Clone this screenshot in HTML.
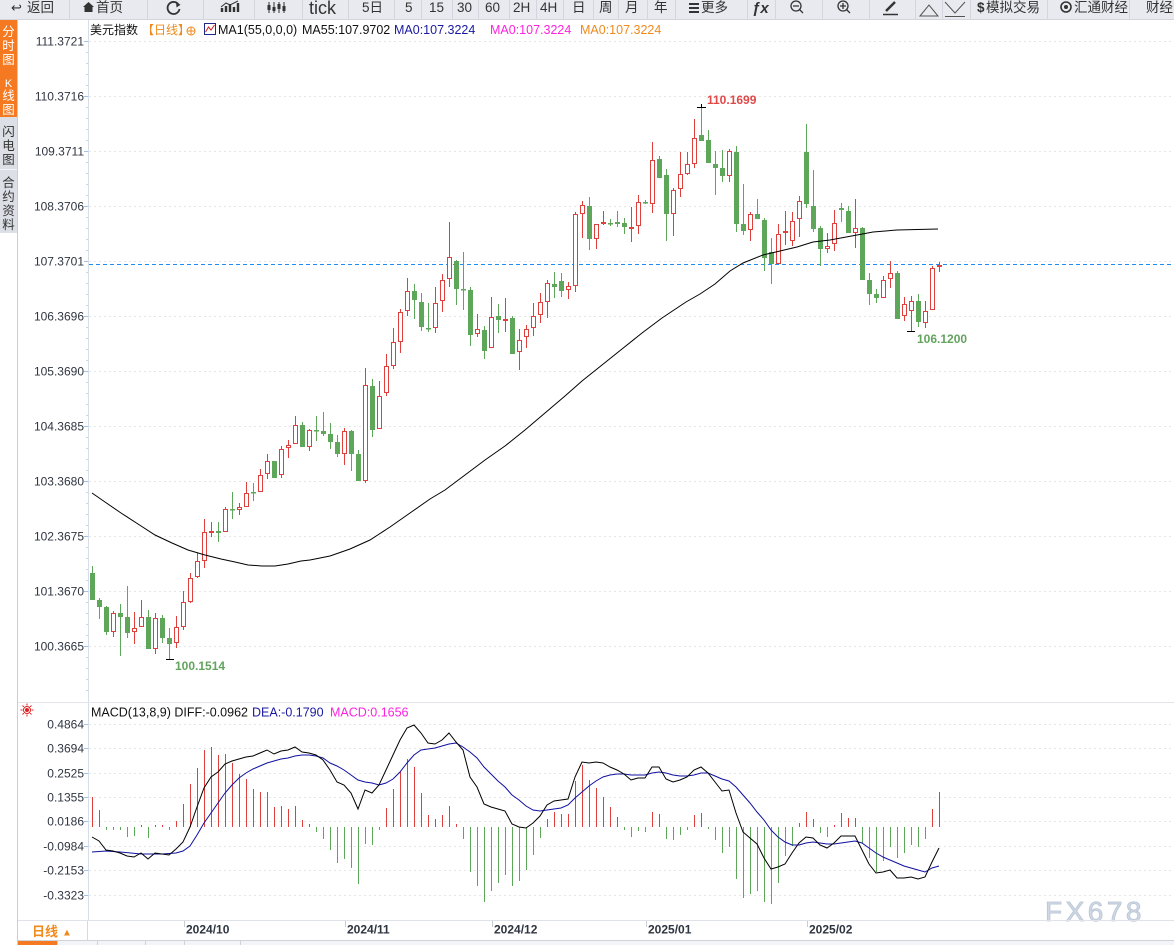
<!DOCTYPE html>
<html><head><meta charset="utf-8"><style>
html,body{margin:0;padding:0;background:#fff;}
body{width:1174px;height:945px;overflow:hidden;position:relative;}
svg{display:block;}
text{font-family:"Liberation Sans","Noto Sans CJK SC",sans-serif;}
</style></head><body>
<svg width="1174" height="945" viewBox="0 0 1174 945" xmlns="http://www.w3.org/2000/svg">
<rect width="1174" height="945" fill="#fff"/>
<!-- toolbar -->
<rect x="0" y="0" width="1174" height="19" fill="#e8eaef"/>
<line x1="0" y1="19.5" x2="1174" y2="19.5" stroke="#d2d5dc"/>
<g stroke="#d3d6dd" stroke-width="1">
<path d="M69.5 0V19M147.5 0V19M203.5 0V19M254.5 0V19M302.5 0V19M348.5 0V19M394.5 0V19M421.5 0V19M452.5 0V19M478.5 0V19M509.5 0V19M536.5 0V19M563.5 0V19M593.5 0V19M618.5 0V19M647.5 0V19M675.5 0V19M747.5 0V19M775.5 0V19M822.5 0V19M869.5 0V19M915.5 0V19M942.5 0V19M970.5 0V19M1047.5 0V19M1129.5 0V19"/>
</g>
<g fill="#333" font-size="13.5">
<text x="11" y="12" font-family="DejaVu Sans" font-size="13">↩</text>
<text x="27" y="12">返回</text>
<path d="M83 7 L88.5 2 L94 7 L92.5 7 L92.5 12 L84.5 12 L84.5 7Z" fill="#333"/>
<text x="96" y="12">首页</text>
<path d="M178.5 4.5 A6 6 0 1 0 179.5 9" fill="none" stroke="#333" stroke-width="1.8"/>
<path d="M176 2 L180.5 4.8 L176.5 7.5Z" fill="#333"/>
<path d="M222 12V8M226 12V6M230 12V4M234 12V7M238 12V3" stroke="#333" stroke-width="2.4"/>
<path d="M221 7 L226 3 L230 5 L238 1" stroke="#333" fill="none" stroke-width="1"/>
<path d="M269 2V13M274 2V13M279 2V13M284 2V13" stroke="#333" stroke-width="1"/>
<path d="M267.5 5h3v5h-3zM272.5 7h3v4h-3zM277.5 4h3v5h-3zM282.5 6h3v5h-3z" fill="#333"/>
<text x="309" y="14" font-size="18">tick</text>
<text x="362" y="12">5日</text>
<text x="405" y="12">5</text>
<text x="429" y="12">15</text>
<text x="457" y="12">30</text>
<text x="485" y="12">60</text>
<text x="513" y="12">2H</text>
<text x="540" y="12">4H</text>
<text x="572" y="12">日</text>
<text x="599" y="12">周</text>
<text x="625" y="12">月</text>
<text x="654" y="12">年</text>
<path d="M689 3h10v2h-10zM689 7h10v2h-10zM689 11h10v2h-10z" fill="#333"/>
<text x="701" y="12">更多</text>
<text x="752" y="13" font-family="Liberation Serif" font-style="italic" font-weight="bold" font-size="15">ƒx</text>
<circle cx="796" cy="6" r="5" fill="none" stroke="#333" stroke-width="1.3"/>
<path d="M793 6h6M799.5 9.5L803 13" stroke="#333" stroke-width="1.3"/>
<circle cx="843" cy="6" r="5" fill="none" stroke="#333" stroke-width="1.3"/>
<path d="M840 6h6M843 3v6M846.5 9.5L850 13" stroke="#333" stroke-width="1.3"/>
<path d="M886 11 L895 2" stroke="#333" stroke-width="2.5"/>
<path d="M883 14.5h15" stroke="#333" stroke-width="1.5"/>
<path d="M920 16 L929 5 L938 16Z" fill="none" stroke="#555" stroke-width="1"/>
<path d="M945 2 L955 13 L965 2M945 16.5h20" fill="none" stroke="#555" stroke-width="1"/>
<text x="977" y="12" font-weight="bold">$</text>
<text x="986" y="12">模拟交易</text>
<circle cx="1066" cy="7" r="5" fill="none" stroke="#333" stroke-width="1.6"/>
<circle cx="1066" cy="7" r="2" fill="#333"/>
<text x="1074" y="12">汇通财经</text>
<text x="1146" y="12">财经</text>
</g>
<!-- left sidebar -->
<rect x="0" y="20" width="17" height="97" fill="#f47920"/>
<rect x="0" y="117" width="17" height="116" fill="#dcdfe6"/>
<line x1="0" y1="169.5" x2="17" y2="169.5" stroke="#f4f5f8"/>
<line x1="17.5" y1="20" x2="17.5" y2="945" stroke="#c9cdd5"/>
<g font-size="12.5" text-anchor="middle">
<text x="8.5" y="36" fill="#fff">分</text>
<text x="8.5" y="50" fill="#fff">时</text>
<text x="8.5" y="64" fill="#fff">图</text>
<text x="8.5" y="87" fill="#fff" font-family="Liberation Serif" font-size="11">K</text>
<text x="8.5" y="100" fill="#fff">线</text>
<text x="8.5" y="114" fill="#fff">图</text>
<text x="8.5" y="136" fill="#333">闪</text>
<text x="8.5" y="150" fill="#333">电</text>
<text x="8.5" y="164" fill="#333">图</text>
<text x="8.5" y="187" fill="#333">合</text>
<text x="8.5" y="201" fill="#333">约</text>
<text x="8.5" y="215" fill="#333">资</text>
<text x="8.5" y="229" fill="#333">料</text>
</g>
<!-- axis line -->
<line x1="88.5" y1="20" x2="88.5" y2="921" stroke="#d5dde8"/>
<!-- price grid -->
<g stroke="#e6e6e6" stroke-dasharray="2,3">
<path d="M89 41.5H1174M89 96.5H1174M89 151.5H1174M89 206.5H1174M89 261.5H1174M89 316.5H1174M89 371.5H1174M89 426.5H1174M89 481.5H1174M89 536.5H1174M89 591.5H1174M89 646.5H1174"/>
</g>
<g stroke="#9fc4e8">
<path d="M84 41.5H88M84 96.5H88M84 151.5H88M84 206.5H88M84 261.5H88M84 316.5H88M84 371.5H88M84 426.5H88M84 481.5H88M84 536.5H88M84 591.5H88M84 646.5H88"/>
</g>
<g stroke="#cfd6df">
<path d="M86 52.5H88M86 63.5H88M86 74.5H88M86 85.5H88M86 107.5H88M86 118.5H88M86 129.5H88M86 140.5H88M86 162.5H88M86 173.5H88M86 184.5H88M86 195.5H88M86 217.5H88M86 228.5H88M86 239.5H88M86 250.5H88M86 272.5H88M86 283.5H88M86 294.5H88M86 305.5H88M86 327.5H88M86 338.5H88M86 349.5H88M86 360.5H88M86 382.5H88M86 393.5H88M86 404.5H88M86 415.5H88M86 437.5H88M86 448.5H88M86 459.5H88M86 470.5H88M86 492.5H88M86 503.5H88M86 514.5H88M86 525.5H88M86 547.5H88M86 558.5H88M86 569.5H88M86 580.5H88M86 602.5H88M86 613.5H88M86 624.5H88M86 635.5H88M86 657.5H88M86 668.5H88M86 679.5H88M86 690.5H88"/>
</g>
<g fill="#2f3540" font-size="12" text-anchor="end">
<text x="84" y="45.5">111.3721</text>
<text x="84" y="100.5">110.3716</text>
<text x="84" y="155.5">109.3711</text>
<text x="84" y="210.5">108.3706</text>
<text x="84" y="265.5">107.3701</text>
<text x="84" y="320.5">106.3696</text>
<text x="84" y="375.5">105.3690</text>
<text x="84" y="430.5">104.3685</text>
<text x="84" y="485.5">103.3680</text>
<text x="84" y="540.5">102.3675</text>
<text x="84" y="595.5">101.3670</text>
<text x="84" y="650.5">100.3665</text>
</g>
<!-- header -->
<text x="90" y="34" font-size="12" fill="#111">美元指数</text>
<text x="142" y="34" font-size="12" fill="#f08a1c">【日线】</text>
<circle cx="191" cy="31" r="4" fill="none" stroke="#f08a1c" stroke-width="1"/>
<path d="M187 31h8M191 27v8" stroke="#f08a1c" stroke-width="1"/>
<rect x="204.5" y="23.5" width="11" height="11" fill="#fff" stroke="#1d2a8a"/>
<path d="M205.5 32 L208.5 27 L211 30 L214.5 25" fill="none" stroke="#d02020"/>
<g font-size="12.5">
<text x="218" y="34" fill="#111">MA1(55,0,0,0)</text>
<text x="302" y="34" fill="#111">MA55:107.9702</text>
<text x="394" y="34" fill="#1a1aa0">MA0:107.3224</text>
<text x="490" y="34" fill="#ff22dd">MA0:107.3224</text>
<text x="580" y="34" fill="#f08a1c">MA0:107.3224</text>
</g>
<!-- dashed current price line -->
<line x1="89" y1="264.5" x2="1174" y2="264.5" stroke="#1e8cf0" stroke-dasharray="4,3"/>
<!-- candles: green -->
<path stroke="#5ea65a" stroke-width="1" fill="none" d="M92.5 566V600M99.5 598V619M106.5 606V635M120.5 604V656M127.5 586V638M148.5 610V649M162.5 615V643M169.5 628V659M218.5 522V542M232.5 492V519M253.5 483V501M274.5 461V478M302.5 422V447M316.5 416V441M323.5 412V436M330.5 423V449M337.5 435V457M351.5 430V471M358.5 450V481M372.5 379V437M414.5 284V319M421.5 293V331M428.5 303V332M456.5 260V305M463.5 252V310M470.5 287V346M484.5 326V359M498.5 304V333M512.5 316V354M554.5 272V298M561.5 273V297M589.5 197V250M610.5 219V226M617.5 211V227M624.5 218V234M645.5 200V204M659.5 156V178M666.5 169V241M701.5 107V141M708.5 130V163M715.5 151V195M722.5 150V182M736.5 146V232M743.5 184V235M757.5 199V219M764.5 218V271M771.5 238V284M806.5 124V208M813.5 170V232M820.5 226V266M841.5 203V222M848.5 206V233M862.5 227V280M869.5 273V305M876.5 289V303M897.5 271V319M918.5 294V327"/>
<g fill="#5ea65a">
<rect x="90" y="573" width="5" height="27"/><rect x="97" y="600" width="5" height="7"/><rect x="104" y="607" width="5" height="25"/><rect x="118" y="613" width="5" height="4"/><rect x="125" y="617" width="5" height="16"/><rect x="146" y="617" width="5" height="32"/><rect x="160" y="618" width="5" height="20"/><rect x="167" y="638" width="5" height="6"/><rect x="216" y="531" width="5" height="2"/><rect x="230" y="509" width="5" height="1.5"/><rect x="251" y="492" width="5" height="1.5"/><rect x="272" y="461" width="5" height="17"/><rect x="300" y="425" width="5" height="22"/><rect x="314" y="430" width="5" height="1.5"/><rect x="321" y="431" width="5" height="3"/><rect x="328" y="434" width="5" height="8"/><rect x="335" y="442" width="5" height="12"/><rect x="349" y="431" width="5" height="23"/><rect x="356" y="454" width="5" height="27"/><rect x="370" y="386" width="5" height="44"/><rect x="412" y="291" width="5" height="9"/><rect x="419" y="302" width="5" height="25"/><rect x="426" y="328" width="5" height="1.5"/><rect x="454" y="261" width="5" height="28"/><rect x="461" y="289" width="5" height="1.5"/><rect x="468" y="290" width="5" height="45"/><rect x="482" y="330" width="5" height="21"/><rect x="496" y="316" width="5" height="4"/><rect x="510" y="318" width="5" height="36"/><rect x="552" y="284" width="5" height="3"/><rect x="559" y="281" width="5" height="10"/><rect x="587" y="206" width="5" height="33"/><rect x="608" y="223" width="5" height="1.5"/><rect x="615" y="222" width="5" height="2"/><rect x="622" y="223" width="5" height="4"/><rect x="643" y="202" width="5" height="1.5"/><rect x="657" y="159" width="5" height="19"/><rect x="664" y="175" width="5" height="39"/><rect x="699" y="135" width="5" height="6"/><rect x="706" y="140" width="5" height="23"/><rect x="713" y="164" width="5" height="4"/><rect x="720" y="168" width="5" height="8"/><rect x="734" y="152" width="5" height="72"/><rect x="741" y="224" width="5" height="7"/><rect x="755" y="214" width="5" height="5"/><rect x="762" y="220" width="5" height="38"/><rect x="769" y="252" width="5" height="12"/><rect x="804" y="152" width="5" height="52"/><rect x="811" y="206" width="5" height="23"/><rect x="818" y="228" width="5" height="21"/><rect x="839" y="208" width="5" height="2"/><rect x="846" y="211" width="5" height="22"/><rect x="860" y="228" width="5" height="52"/><rect x="867" y="280" width="5" height="14"/><rect x="874" y="294" width="5" height="4"/><rect x="895" y="273" width="5" height="46"/><rect x="916" y="301" width="5" height="21"/>
</g>
<!-- candles: red -->
<path stroke="#e0403c" stroke-width="1" fill="none" d="M113.5 611V637M134.5 612V644M141.5 600V627M155.5 613V654M176.5 616V648M183.5 591V630M190.5 573V603M197.5 553V578M204.5 519V568M211.5 522V537M225.5 507V532M239.5 503V515M246.5 482V507M260.5 469V492M267.5 454V479M281.5 446V478M288.5 440V458M295.5 416V444M309.5 429V451M344.5 428V465M365.5 368V483M379.5 381V429M386.5 354V396M393.5 328V369M400.5 309V353M407.5 278V316M435.5 287V333M442.5 274V312M449.5 222V287M477.5 314V337M491.5 297V348M505.5 298V332M519.5 329V370M526.5 325V348M533.5 303V336M540.5 293V323M547.5 280V318M568.5 282V299M575.5 212V292M582.5 201V238M596.5 224V249M603.5 211V225M631.5 207V242M638.5 195V234M652.5 142V213M673.5 188V236M680.5 152V197M687.5 152V175M694.5 119V168M729.5 149V182M750.5 212V241M778.5 224V264M785.5 211V245M792.5 212V246M799.5 196V237M827.5 233V253M834.5 210V251M855.5 199V248M883.5 276V298M890.5 261V288M904.5 297V321M911.5 296V331M925.5 301V328M932.5 266V310M939.5 262V272"/>
<g fill="#fff" stroke="#e0403c" stroke-width="1">
<rect x="111.5" y="613.5" width="4" height="18"/><rect x="132.5" y="628.5" width="4" height="3"/><rect x="139.5" y="617.5" width="4" height="9"/><rect x="153.5" y="618.5" width="4" height="30"/><rect x="174.5" y="627.5" width="4" height="15"/><rect x="181.5" y="602.5" width="4" height="24"/><rect x="188.5" y="578.5" width="4" height="23"/><rect x="195.5" y="561.5" width="4" height="15"/><rect x="202.5" y="532.5" width="4" height="28"/><rect x="209.5" y="531.5" width="4" height="1"/><rect x="223.5" y="509.5" width="4" height="22"/><rect x="237.5" y="507.5" width="4" height="2"/><rect x="244.5" y="493.5" width="4" height="13"/><rect x="258.5" y="475.5" width="4" height="16"/><rect x="265.5" y="461.5" width="4" height="12"/><rect x="279.5" y="449.5" width="4" height="25"/><rect x="286.5" y="445.5" width="4" height="2"/><rect x="293.5" y="425.5" width="4" height="18"/><rect x="307.5" y="430.5" width="4" height="16"/><rect x="342.5" y="431.5" width="4" height="22"/><rect x="363.5" y="385.5" width="4" height="95"/><rect x="377.5" y="396.5" width="4" height="32"/><rect x="384.5" y="366.5" width="4" height="26"/><rect x="391.5" y="342.5" width="4" height="23"/><rect x="398.5" y="312.5" width="4" height="29"/><rect x="405.5" y="291.5" width="4" height="19"/><rect x="433.5" y="303.5" width="4" height="24"/><rect x="440.5" y="280.5" width="4" height="20"/><rect x="447.5" y="257.5" width="4" height="21"/><rect x="475.5" y="329.5" width="4" height="4"/><rect x="489.5" y="317.5" width="4" height="30"/><rect x="517.5" y="340.5" width="4" height="11"/><rect x="524.5" y="329.5" width="4" height="7"/><rect x="531.5" y="316.5" width="4" height="11"/><rect x="538.5" y="302.5" width="4" height="12"/><rect x="545.5" y="283.5" width="4" height="18"/><rect x="566.5" y="286.5" width="4" height="3"/><rect x="573.5" y="214.5" width="4" height="71"/><rect x="580.5" y="205.5" width="4" height="8"/><rect x="594.5" y="224.5" width="4" height="14"/><rect x="636.5" y="202.5" width="4" height="23"/><rect x="650.5" y="160.5" width="4" height="43"/><rect x="671.5" y="190.5" width="4" height="23"/><rect x="678.5" y="174.5" width="4" height="14"/><rect x="685.5" y="164.5" width="4" height="9"/><rect x="692.5" y="138.5" width="4" height="25"/><rect x="727.5" y="151.5" width="4" height="24"/><rect x="748.5" y="214.5" width="4" height="15"/><rect x="776.5" y="234.5" width="4" height="29"/><rect x="783.5" y="231.5" width="4" height="1"/><rect x="790.5" y="221.5" width="4" height="19"/><rect x="797.5" y="201.5" width="4" height="17"/><rect x="825.5" y="246.5" width="4" height="2"/><rect x="832.5" y="223.5" width="4" height="20"/><rect x="853.5" y="228.5" width="4" height="4"/><rect x="881.5" y="280.5" width="4" height="17"/><rect x="888.5" y="273.5" width="4" height="5"/><rect x="902.5" y="304.5" width="4" height="11"/><rect x="909.5" y="301.5" width="4" height="9"/><rect x="923.5" y="311.5" width="4" height="11"/><rect x="930.5" y="268.5" width="4" height="41"/><rect x="937.5" y="265.5" width="4" height="1"/>
</g>
<g fill="#e0403c">
<rect x="503" y="319" width="5" height="2"/><rect x="601" y="222" width="5" height="2"/><rect x="629" y="227" width="5" height="2"/>
</g>
<!-- MA55 -->
<path fill="none" stroke="#000" stroke-width="1" d="M92,493 L105,502 L121,513 L138,524 L155,535 L172,543 L188,550 L205,555 L221,559 L235,562 L248,565 L262,566 L275,566 L288,564 L301,561 L310,560 L330,556 L350,549 L370,540 L390,527 L410,513 L430,499 L445,490 L465,475 L485,460 L505,446 L525,430 L545,413 L565,396 L582,381 L602,365 L622,349 L642,333 L662,318 L686,302 L700,294 L715,284 L730,271 L743,263 L763,255 L780,251 L797,247 L813,242 L830,240 L857,235 L873,232 L897,230 L938,229"/>
<!-- extreme markers -->
<path d="M697 107.5H706M701.5 104V108M166 659.5H174M907 331.5H915" stroke="#000" stroke-width="1"/>
<text x="707" y="104" font-size="12" font-weight="bold" fill="#e04848">110.1699</text>
<text x="917" y="343" font-size="12" font-weight="bold" fill="#62a35e">106.1200</text>
<text x="175" y="670" font-size="12" font-weight="bold" fill="#62a35e">100.1514</text>
<!-- MACD panel -->
<line x1="18" y1="702.5" x2="1174" y2="702.5" stroke="#e3e5ea"/>
<g stroke="#e6e6e6" stroke-dasharray="2,3">
<path d="M89 724.5H1174M89 748.5H1174M89 773.5H1174M89 797.5H1174M89 821.5H1174M89 846.5H1174M89 870.5H1174M89 895.5H1174"/>
</g>
<g stroke="#9fc4e8">
<path d="M84 724.5H88M84 748.5H88M84 773.5H88M84 797.5H88M84 821.5H88M84 846.5H88M84 870.5H88M84 895.5H88"/>
</g>
<g fill="#2f3540" font-size="12" text-anchor="end">
<text x="84" y="728.5">0.4864</text>
<text x="84" y="752.5">0.3694</text>
<text x="84" y="777.5">0.2525</text>
<text x="84" y="801.5">0.1355</text>
<text x="84" y="825.5">0.0186</text>
<text x="84" y="850.5">-0.0984</text>
<text x="84" y="874.5">-0.2153</text>
<text x="84" y="899.5">-0.3323</text>
</g>
<!-- sun icon -->
<g stroke="#e02020" stroke-width="1" fill="none">
<circle cx="27" cy="710" r="3.5"/>
<path d="M27 703.5v2M27 714.5v2M20.5 710h2M31.5 710h2M22.5 705.5l1.3 1.3M30.2 713.2l1.3 1.3M31.5 705.5l-1.3 1.3M23.8 713.2l-1.3 1.3"/>
</g>
<circle cx="27" cy="710" r="2" fill="#e02020"/>
<g font-size="12.5">
<text x="91" y="716.5" fill="#111">MACD(13,8,9) DIFF:-0.0962</text>
<text x="252" y="716.5" fill="#1a1aa0">DEA:-0.1790</text>
<text x="330" y="716.5" fill="#ff22dd">MACD:0.1656</text>
</g>
<!-- MACD bars -->
<path stroke="#e0403c" stroke-width="1" fill="none" d="M92.5 827V797M99.5 827V810M141.5 827V825M155.5 827V825M162.5 827V825M176.5 827V821M183.5 827V804M190.5 827V784M197.5 827V768M204.5 827V750M211.5 827V747M218.5 827V755M225.5 827V754M232.5 827V763M239.5 827V774M246.5 827V779M253.5 827V789M260.5 827V792M267.5 827V792M274.5 827V807M281.5 827V806M288.5 827V809M295.5 827V806M302.5 827V820M309.5 827V824M386.5 827V808M393.5 827V789M400.5 827V771M407.5 827V759M414.5 827V767M421.5 827V793M428.5 827V815M435.5 827V819M442.5 827V815M449.5 827V806M456.5 827V824M547.5 827V819M554.5 827V812M561.5 827V814M568.5 827V814M575.5 827V781M582.5 827V765M589.5 827V780M596.5 827V788M603.5 827V797M610.5 827V807M617.5 827V817M652.5 827V812M659.5 827V814M694.5 827V815M701.5 827V813M799.5 827V823M806.5 827V812M813.5 827V819M834.5 827V825M841.5 827V813M848.5 827V818M855.5 827V818M932.5 827V809M939.5 827V792"/>
<path stroke="#5ea65a" stroke-width="1" fill="none" d="M106.5 827V830M113.5 827V830M120.5 827V830M127.5 827V837M134.5 827V836M148.5 827V838M169.5 827V830M316.5 827V832M323.5 827V839M330.5 827V850M337.5 827V863M344.5 827V859M351.5 827V868M358.5 827V884M365.5 827V844M372.5 827V845M379.5 827V830M463.5 827V839M470.5 827V872M477.5 827V886M484.5 827V902M491.5 827V891M498.5 827V883M505.5 827V875M512.5 827V886M519.5 827V881M526.5 827V870M533.5 827V855M540.5 827V838M624.5 827V830M631.5 827V837M638.5 827V831M645.5 827V832M666.5 827V839M673.5 827V840M680.5 827V835M687.5 827V830M708.5 827V829M715.5 827V840M722.5 827V853M729.5 827V847M736.5 827V879M743.5 827V898M750.5 827V894M757.5 827V891M764.5 827V902M771.5 827V904M778.5 827V883M785.5 827V856M792.5 827V846M820.5 827V833M827.5 827V837M862.5 827V843M869.5 827V858M876.5 827V872M883.5 827V861M890.5 827V847M897.5 827V858M904.5 827V853M911.5 827V845M918.5 827V847M925.5 827V839"/>
<!-- DEA -->
<polyline fill="none" stroke="#1010a0" stroke-width="1" points="92,852 106,851 120,852 141,854 162,854 176,853 183,851 190,846 197,835 204,823 211,813 218,803 225,793 232,785 239,778 246,773 253,769 260,766 267,763 274,761 281,759 288,758 295,756 302,755 309,755 316,756 323,758 330,763 337,766 344,770 351,775 358,780 365,782 372,783 379,785 386,783 393,779 400,772 407,763 414,755 421,750 428,749 435,748 442,746 449,744 456,743 463,747 470,752 477,758 484,767 491,774 498,781 505,787 512,795 519,800 526,806 533,810 540,811 547,810 554,809 561,808 568,805 575,798 582,792 589,786 596,781 603,777 610,775 617,774 624,774 631,775 638,775 645,775 652,773 659,772 666,773 673,775 680,776 687,776 694,775 701,773 708,773 715,776 722,779 729,781 736,787 743,795 750,803 757,812 764,820 771,830 778,837 785,842 792,845 799,845 806,843 813,842 820,843 827,844 834,844 841,843 848,842 855,841 862,843 869,848 876,853 883,857 890,860 897,863 904,866 911,868 918,870 925,872 932,868 939,866"/>
<!-- DIFF -->
<polyline fill="none" stroke="#000" stroke-width="1" points="92,837 99,841 106,850 113,851 120,853 127,856 134,857 141,853 148,859 155,853 162,854 169,855 176,849 183,842 190,827 197,807 204,788 211,777 218,772 225,764 232,761 239,759 246,757 253,756 260,753 267,750 274,754 281,751 288,750 295,747 302,752 309,753 316,755 323,760 330,770 337,782 344,785 351,793 358,809 365,790 372,793 379,785 386,770 393,755 400,740 407,728 414,725 421,733 428,743 435,744 442,740 449,733 456,742 463,750 470,777 477,787 484,804 491,807 498,809 505,811 512,824 519,827 526,828 533,823 540,816 547,805 554,801 561,800 568,799 575,777 582,762 589,763 596,762 603,763 610,767 617,770 624,774 631,780 638,778 645,778 652,767 659,767 666,779 673,782 680,780 687,777 694,770 701,767 708,773 715,782 722,791 729,790 736,813 743,832 750,838 757,844 764,858 771,869 778,867 785,864 792,853 799,843 806,837 813,838 820,845 827,848 834,843 841,836 848,836 855,836 862,850 869,864 876,873 883,872 890,870 897,878 904,878 911,877 918,879 925,877 932,862 939,848"/>
<!-- watermark -->
<text x="1045" y="921" font-size="28" fill="#cfd8e4" letter-spacing="3.5" stroke="#b9c5d4" stroke-width="0.8">FX678</text>
<!-- date axis -->
<line x1="18" y1="920.5" x2="1174" y2="920.5" stroke="#dfe2e8"/>
<line x1="87.5" y1="921" x2="87.5" y2="940" stroke="#d5d9e0"/>
<line x1="18" y1="940.5" x2="1174" y2="940.5" stroke="#cfd3da"/>
<g stroke="#c8ccd4"><path d="M184.5 921V927M345.5 921V927M492.5 921V927M646.5 921V927M807.5 921V927"/></g>
<g font-size="12" font-weight="bold" fill="#2f3540">
<text x="186" y="933.5">2024/10</text>
<text x="347" y="933.5">2024/11</text>
<text x="494" y="933.5">2024/12</text>
<text x="648" y="933.5">2025/01</text>
<text x="809" y="933.5">2025/02</text>
</g>
<text x="32" y="936" font-size="13" font-weight="bold" fill="#f08a1c">日线</text>
<text x="62" y="935.5" font-size="10" fill="#f08a1c" font-family="DejaVu Sans">▲</text>
<!-- bottom tabs -->
<rect x="18" y="941" width="39" height="4" fill="#f47920"/>
<rect x="57" y="941" width="1117" height="4" fill="#f3f4f7"/>
<g stroke="#cfd3da"><path d="M57.5 941V945M97.5 941V945M145.5 941V945M184.5 941V945M240.5 941V945"/></g>
</svg>
</body></html>
